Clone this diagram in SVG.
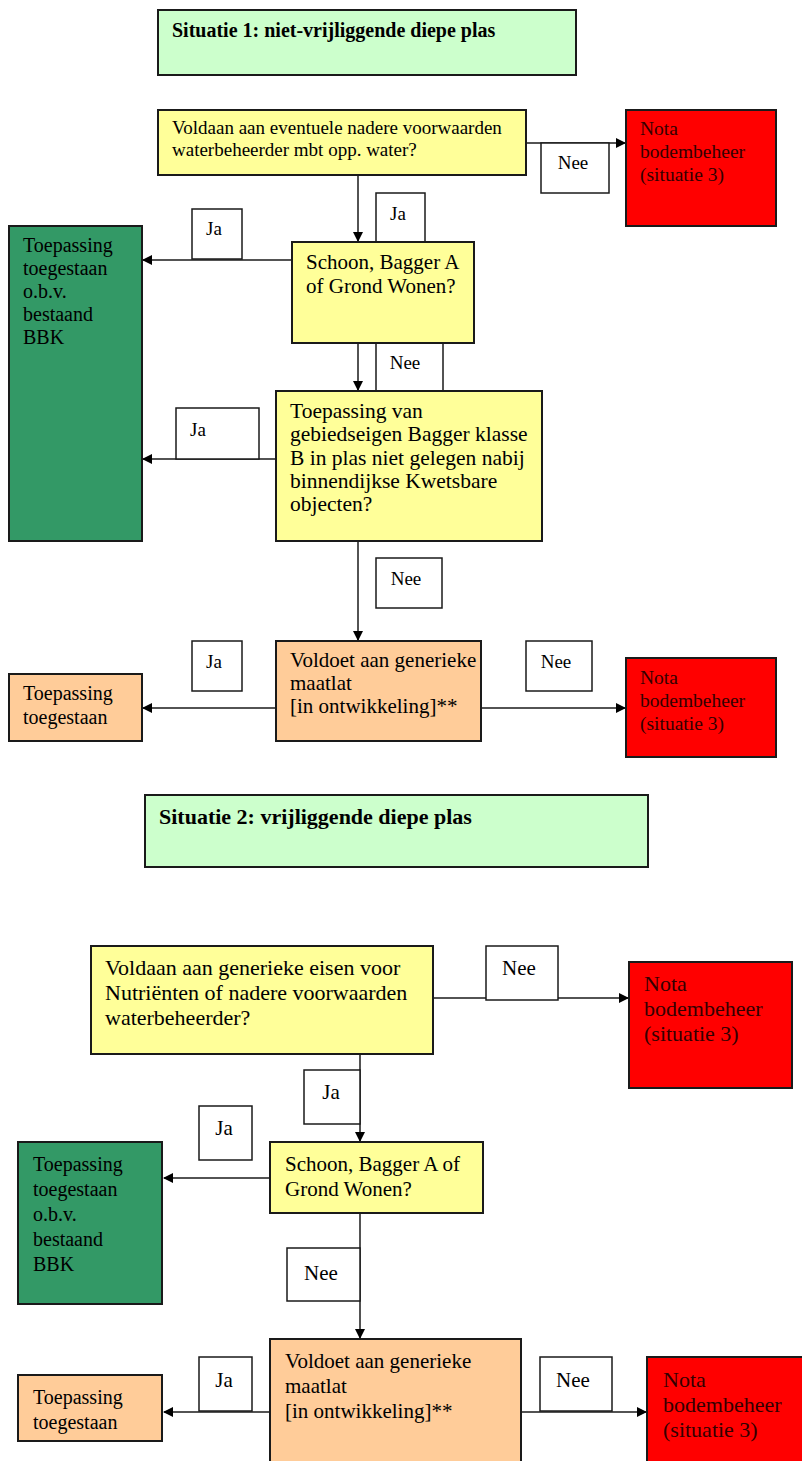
<svg xmlns="http://www.w3.org/2000/svg" width="802" height="1461" viewBox="0 0 802 1461">
<style>
text{font-family:"Liberation Serif","Times New Roman",serif;fill:#000}
.b{stroke:#1a1a1a;stroke-width:2}
.t{fill:#ccffcc}.y{fill:#ffff99}.r{fill:#ff0000}.g{fill:#339966}.o{fill:#ffcc99}.w{fill:#fff;stroke:#1a1a1a;stroke-width:1.5}
.c{stroke:#1a1a1a;stroke-width:1.5;fill:none;marker-end:url(#ah)}
.hd{font-weight:bold}
.lb{font-size:19px;text-anchor:middle}
.lb2{font-size:21px;text-anchor:middle}
.rt{fill:#330000}
</style>
<defs>
<marker id="ah" markerWidth="10" markerHeight="10" refX="9" refY="5" orient="auto" markerUnits="userSpaceOnUse">
<path d="M0,0 L10,5 L0,10 z" fill="#000"/>
</marker>
</defs>
<rect width="802" height="1461" fill="#fff"/>

<g id="connectors">
<line class="c" x1="526" y1="143" x2="625" y2="143"/>
<line class="c" x1="358" y1="175" x2="358" y2="241"/>
<line class="c" x1="292" y1="260" x2="143" y2="260"/>
<line class="c" x1="358" y1="343" x2="358" y2="390"/>
<line class="c" x1="276" y1="459" x2="143" y2="459"/>
<line class="c" x1="358" y1="541" x2="358" y2="640"/>
<line class="c" x1="276" y1="708" x2="143" y2="708"/>
<line class="c" x1="481" y1="708" x2="625" y2="708"/>
<line class="c" x1="433" y1="998" x2="628" y2="998"/>
<line class="c" x1="360" y1="1054" x2="360" y2="1141"/>
<line class="c" x1="270" y1="1178" x2="164" y2="1178"/>
<line class="c" x1="360" y1="1213" x2="360" y2="1338"/>
<line class="c" x1="270" y1="1412" x2="164" y2="1412"/>
<line class="c" x1="521" y1="1412" x2="646" y2="1412"/>
</g>

<g id="labels">
<g id="l1"><rect class="w" x="541" y="143" width="68" height="50"/><text class="lb" x="573" y="169">Nee</text></g>
<g id="l2"><rect class="w" x="376" y="193" width="49" height="49"/><text class="lb" x="398" y="220">Ja</text></g>
<g id="l3"><rect class="w" x="192" y="209" width="50" height="50"/><text class="lb" x="214" y="235">Ja</text></g>
<g id="l4"><rect class="w" x="376" y="343" width="67" height="48"/><text class="lb" x="405" y="369">Nee</text></g>
<g id="l5"><rect class="w" x="176" y="408" width="83" height="51"/><text class="lb" x="198" y="436">Ja</text></g>
<g id="l6"><rect class="w" x="376" y="558" width="66" height="50"/><text class="lb" x="406" y="585">Nee</text></g>
<g id="l7"><rect class="w" x="192" y="641" width="50" height="50"/><text class="lb" x="214" y="668">Ja</text></g>
<g id="l8"><rect class="w" x="526" y="641" width="66" height="50"/><text class="lb" x="556" y="668">Nee</text></g>
<g id="l9"><rect class="w" x="486" y="946" width="72" height="54"/><text class="lb2" x="519" y="975">Nee</text></g>
<g id="l10"><rect class="w" x="304" y="1070" width="56" height="54"/><text class="lb2" x="331" y="1099">Ja</text></g>
<g id="l11"><rect class="w" x="199" y="1106" width="53" height="54"/><text class="lb2" x="224" y="1135">Ja</text></g>
<g id="l12"><rect class="w" x="287" y="1248" width="73" height="53"/><text class="lb2" x="321" y="1280">Nee</text></g>
<g id="l13"><rect class="w" x="199" y="1357" width="53" height="54"/><text class="lb2" x="224" y="1387">Ja</text></g>
<g id="l14"><rect class="w" x="540" y="1357" width="72" height="54"/><text class="lb2" x="573" y="1387">Nee</text></g>
</g>

<g id="title1"><rect class="b t" x="158" y="10" width="418" height="65"/><text class="hd" x="172" y="37" style="font-size:20px">Situatie 1: niet-vrijliggende diepe plas</text></g>

<g id="q1" style="font-size:19px"><rect class="b y" x="158" y="110" width="368" height="65"/>
<text x="172" y="134">Voldaan aan eventuele nadere voorwaarden</text>
<text x="172" y="156">waterbeheerder mbt opp. water?</text></g>

<g id="red1" style="font-size:19.5px"><rect class="b r" x="626" y="110" width="150" height="116"/>
<text class="rt" x="640" y="135">Nota</text>
<text class="rt" x="640" y="158">bodembeheer</text>
<text class="rt" x="640" y="181">(situatie 3)</text></g>

<g id="green1" style="font-size:20px"><rect class="b g" x="9" y="226" width="133" height="315"/>
<text x="23" y="252">Toepassing</text>
<text x="23" y="275">toegestaan</text>
<text x="23" y="298">o.b.v.</text>
<text x="23" y="321">bestaand</text>
<text x="23" y="344">BBK</text></g>

<g id="q2" style="font-size:21px"><rect class="b y" x="292" y="242" width="182" height="101"/>
<text x="306" y="269">Schoon, Bagger A</text>
<text x="306" y="293">of Grond Wonen?</text></g>

<g id="q3" style="font-size:21.5px"><rect class="b y" x="276" y="391" width="266" height="150"/>
<text x="290" y="418">Toepassing van</text>
<text x="290" y="441">gebiedseigen Bagger klasse</text>
<text x="290" y="465">B in plas niet gelegen nabij</text>
<text x="290" y="488">binnendijkse Kwetsbare</text>
<text x="290" y="511">objecten?</text></g>

<g id="q4" style="font-size:21px"><rect class="b o" x="276" y="641" width="205" height="100"/>
<text x="290" y="667">Voldoet aan generieke</text>
<text x="290" y="690">maatlat</text>
<text x="290" y="713">[in ontwikkeling]**</text></g>

<g id="orange1" style="font-size:20px"><rect class="b o" x="9" y="674" width="133" height="67"/>
<text x="23" y="700">Toepassing</text>
<text x="23" y="724">toegestaan</text></g>

<g id="red2" style="font-size:19.5px"><rect class="b r" x="626" y="658" width="150" height="99"/>
<text class="rt" x="640" y="684">Nota</text>
<text class="rt" x="640" y="707">bodembeheer</text>
<text class="rt" x="640" y="730">(situatie 3)</text></g>

<g id="title2"><rect class="b t" x="145" y="795" width="503" height="72"/><text class="hd" x="159" y="824" style="font-size:22px">Situatie 2: vrijliggende diepe plas</text></g>

<g id="q5" style="font-size:22px"><rect class="b y" x="91" y="946" width="342" height="108"/>
<text x="105" y="975">Voldaan aan generieke eisen voor</text>
<text x="105" y="1000">Nutriënten of nadere voorwaarden</text>
<text x="105" y="1025">waterbeheerder?</text></g>

<g id="red3" style="font-size:22px"><rect class="b r" x="629" y="962" width="163" height="126"/>
<text class="rt" x="644" y="991">Nota</text>
<text class="rt" x="644" y="1016">bodembeheer</text>
<text class="rt" x="644" y="1041">(situatie 3)</text></g>

<g id="q6" style="font-size:21px"><rect class="b y" x="270" y="1142" width="213" height="71"/>
<text x="285" y="1171">Schoon, Bagger A of</text>
<text x="285" y="1196">Grond Wonen?</text></g>

<g id="green2" style="font-size:20px"><rect class="b g" x="18" y="1142" width="144" height="162"/>
<text x="33" y="1171">Toepassing</text>
<text x="33" y="1196">toegestaan</text>
<text x="33" y="1221">o.b.v.</text>
<text x="33" y="1246">bestaand</text>
<text x="33" y="1271">BBK</text></g>

<g id="q7" style="font-size:21px"><rect class="b o" x="270" y="1339" width="251" height="130"/>
<text x="285" y="1368">Voldoet aan generieke</text>
<text x="285" y="1393">maatlat</text>
<text x="285" y="1418">[in ontwikkeling]**</text></g>

<g id="orange2" style="font-size:20px"><rect class="b o" x="18" y="1375" width="144" height="66"/>
<text x="33" y="1404">Toepassing</text>
<text x="33" y="1429">toegestaan</text></g>

<g id="red4" style="font-size:22px"><rect class="b r" x="647" y="1357" width="165" height="112"/>
<text class="rt" x="663" y="1387">Nota</text>
<text class="rt" x="663" y="1412">bodembeheer</text>
<text class="rt" x="663" y="1437">(situatie 3)</text></g>
</svg>
